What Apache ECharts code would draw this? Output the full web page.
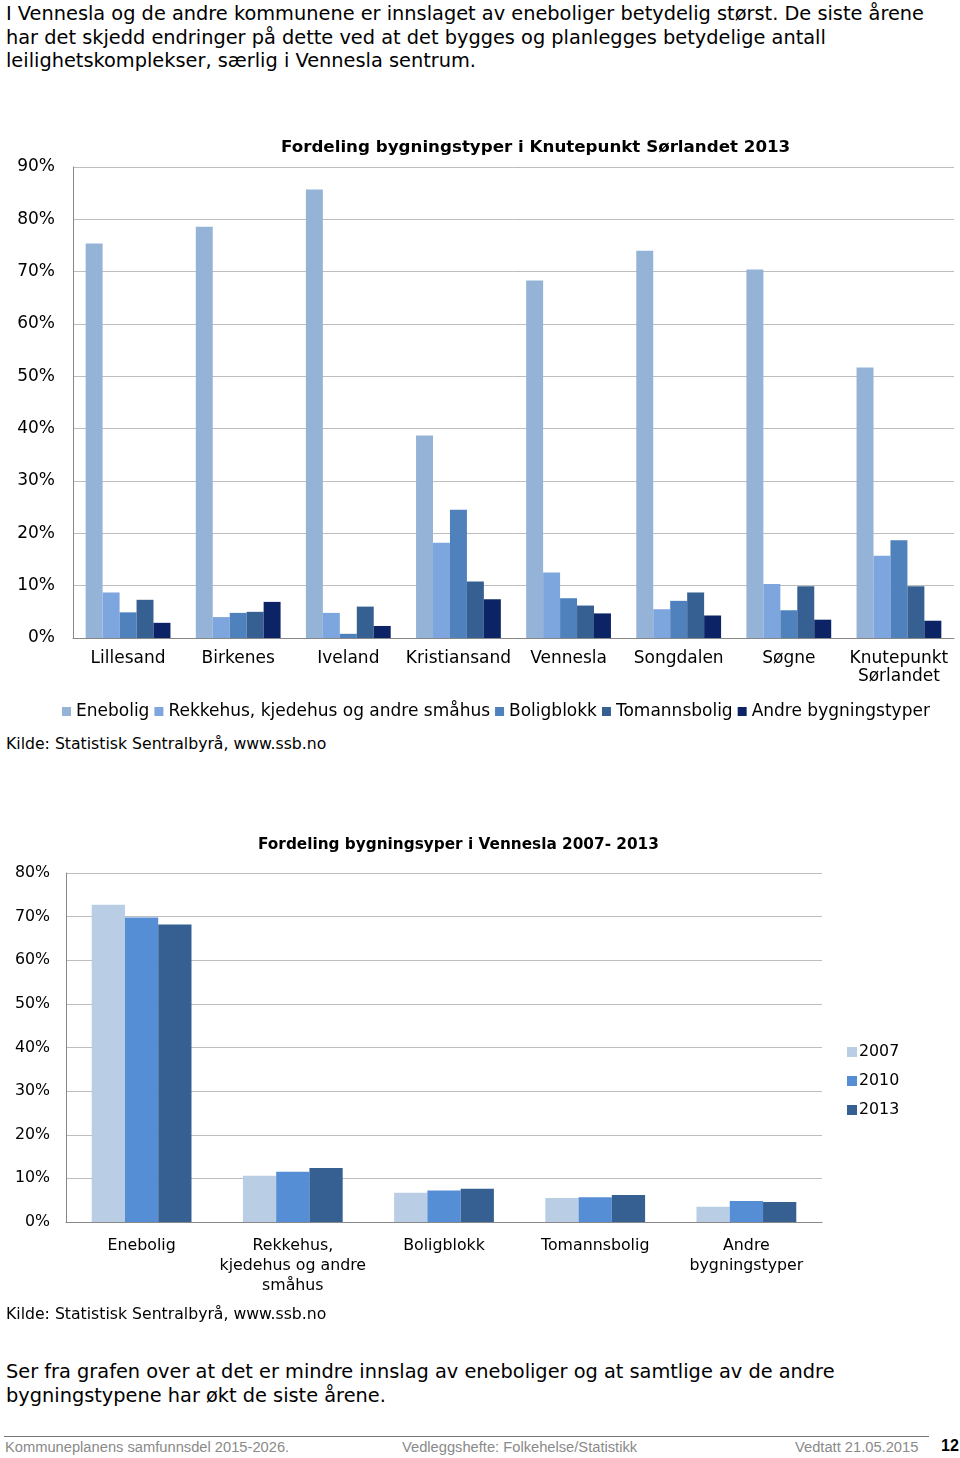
<!DOCTYPE html>
<html>
<head>
<meta charset="utf-8">
<script src="https://cdn.jsdelivr.net/npm/echarts@6/dist/echarts.min.js"></script>
<style>
  body { margin: 0; width: 960px; height: 1458px; position: relative; background: #fff; font-family: "Liberation Sans", Arial, sans-serif; overflow: hidden; }
  .txt { position: absolute; left: 6px; font-family: "DejaVu Sans", Verdana, sans-serif; font-size: 19.35px; line-height: 23.5px; color: #000; white-space: nowrap; }
  .kilde { position: absolute; left: 6px; font-family: "DejaVu Sans", sans-serif; font-size: 15.7px; color: #000; }
  .foot { position: absolute; top: 1439px; font-size: 14.7px; color: #8a8a8a; }
  #chart1 { position: absolute; left: 0; top: 120px; width: 960px; height: 610px; }
  #chart2 { position: absolute; left: 0; top: 820px; width: 960px; height: 490px; }
</style>
</head>
<body>
<div class="txt" style="top:2px">I Vennesla og de andre kommunene er innslaget av eneboliger betydelig størst. De siste årene<br>har det skjedd endringer på dette ved at det bygges og planlegges betydelige antall<br>leilighetskomplekser, særlig i Vennesla sentrum.</div>
<div id="chart1"></div>
<div class="kilde" style="top:734px">Kilde: Statistisk Sentralbyrå, www.ssb.no</div>
<div id="chart2"></div>
<div class="kilde" style="top:1304px">Kilde: Statistisk Sentralbyrå, www.ssb.no</div>
<div class="txt" style="top:1360px">Ser fra grafen over at det er mindre innslag av eneboliger og at samtlige av de andre<br>bygningstypene har økt de siste årene.</div>
<div style="position:absolute;left:4px;top:1436px;width:925px;height:1px;background:#777"></div>
<div class="foot" style="left:5px">Kommuneplanens samfunnsdel 2015-2026.</div>
<div class="foot" style="left:402px">Vedleggshefte: Folkehelse/Statistikk</div>
<div class="foot" style="left:795px">Vedtatt 21.05.2015</div>
<div class="foot" style="left:941px;top:1437px;color:#000;font-weight:bold;font-size:16px">12</div>
<script>
// data: fordeling bygningstyper 2013 (andel i %)
var kommuner = ['Lillesand', 'Birkenes', 'Iveland', 'Kristiansand', 'Vennesla', 'Songdalen', 'Søgne', 'Knutepunkt\nSørlandet'];
var enebolig     = [75.4, 78.6, 85.7, 38.7, 68.3, 74.0, 70.4, 51.7];
var rekkehus     = [8.7, 4.0, 4.8, 18.2, 12.5, 5.5, 10.3, 15.7];
var boligblokk   = [4.9, 4.8, 0.8, 24.5, 7.6, 7.1, 5.3, 18.7];
var tomannsbolig = [7.3, 5.0, 6.0, 10.8, 6.2, 8.7, 9.9, 9.9];
var andre        = [2.9, 6.9, 2.3, 7.4, 4.7, 4.3, 3.5, 3.3];
var typeNavn = ['Enebolig', 'Rekkehus, kjedehus og andre småhus', 'Boligblokk', 'Tomannsbolig', 'Andre bygningstyper'];

// data: Vennesla 2007 - 2013
var typer = ['Enebolig', 'Rekkehus,\nkjedehus og andre\nsmåhus', 'Boligblokk', 'Tomannsbolig', 'Andre\nbygningstyper'];
var aar = ['2007', '2010', '2013'];
var v2007 = [72.7, 10.6, 6.7, 5.5, 3.5];
var v2010 = [69.8, 11.5, 7.2, 5.7, 4.8];
var v2013 = [68.2, 12.4, 7.6, 6.2, 4.6];

var font = '"DejaVu Sans", Verdana, sans-serif';

var myChart = echarts.init(document.getElementById('chart1'));
var serie1 = [enebolig, rekkehus, boligblokk, tomannsbolig, andre];
option = {
	color: ['#95B3D7', '#7EA6DE', '#4F81BD', '#376092', '#0C2466'],
	animation: false,
	title: {
		text: 'Fordeling bygningstyper i Knutepunkt Sørlandet 2013',
		left: 276,
		top: 14,
		textStyle: { fontFamily: font, fontSize: 16.7, fontWeight: 'bold', color: '#000' }
	},
	legend: {
		left: 57,
		top: 578,
		itemWidth: 9,
		itemHeight: 9,
		itemGap: 5,
		icon: 'rect',
		textStyle: { fontFamily: font, fontSize: 17, color: '#000', padding: [0, 0, 0, 0] },
		data: typeNavn
	},
	grid: { left: 73, right: 6, top: 47, bottom: 92 },
	xAxis: {
		type: 'category',
		data: kommuner,
		axisTick: { show: false },
		axisLine: { lineStyle: { color: '#888' } },
		axisLabel: { fontFamily: font, fontSize: 17, color: '#000', margin: 12, lineHeight: 18, interval: 0 }
	},
	yAxis: {
		type: 'value',
		min: 0,
		max: 90,
		interval: 10,
		axisLine: { show: true, lineStyle: { color: '#888' } },
		axisTick: { show: false },
		splitLine: { lineStyle: { color: '#bdbdbd' } },
		axisLabel: { fontFamily: font, fontSize: 17, color: '#000', margin: 18, formatter: '{value}%' }
	},
	series: []
};
for (var i = 0; i < typeNavn.length; i++) {
	option.series.push({
		name: typeNavn[i],
		type: 'bar',
		barGap: 0,
		barCategoryGap: '23%',
		data: serie1[i]
	});
}
myChart.setOption(option);

var myChart2 = echarts.init(document.getElementById('chart2'));
var serie2 = [v2007, v2010, v2013];
option2 = {
	color: ['#B9CDE5', '#558ED5', '#376092'],
	animation: false,
	title: {
		text: 'Fordeling bygningsyper i Vennesla 2007- 2013',
		left: 253,
		top: 13,
		textStyle: { fontFamily: font, fontSize: 15.3, fontWeight: 'bold', color: '#000' }
	},
	legend: {
		orient: 'vertical',
		left: 842,
		top: 219,
		itemWidth: 10,
		itemHeight: 10,
		itemGap: 13,
		icon: 'rect',
		textStyle: { fontFamily: font, fontSize: 15.8, color: '#000', padding: [0, 0, 0, -3] },
		data: aar
	},
	grid: { left: 66, right: 138, top: 53, bottom: 88 },
	xAxis: {
		type: 'category',
		data: typer,
		axisTick: { show: false },
		axisLine: { lineStyle: { color: '#888' } },
		axisLabel: { fontFamily: font, fontSize: 15.8, color: '#000', margin: 14, lineHeight: 20, interval: 0 }
	},
	yAxis: {
		type: 'value',
		min: 0,
		max: 80,
		interval: 10,
		axisLine: { show: true, lineStyle: { color: '#888' } },
		axisTick: { show: false },
		splitLine: { lineStyle: { color: '#bdbdbd' } },
		axisLabel: { fontFamily: font, fontSize: 15.8, color: '#000', margin: 16, formatter: '{value}%' }
	},
	series: []
};
for (var j = 0; j < aar.length; j++) {
	option2.series.push({
		name: aar[j],
		type: 'bar',
		barGap: 0,
		barCategoryGap: '34%',
		data: serie2[j]
	});
}
myChart2.setOption(option2);
</script>
</body>
</html>
